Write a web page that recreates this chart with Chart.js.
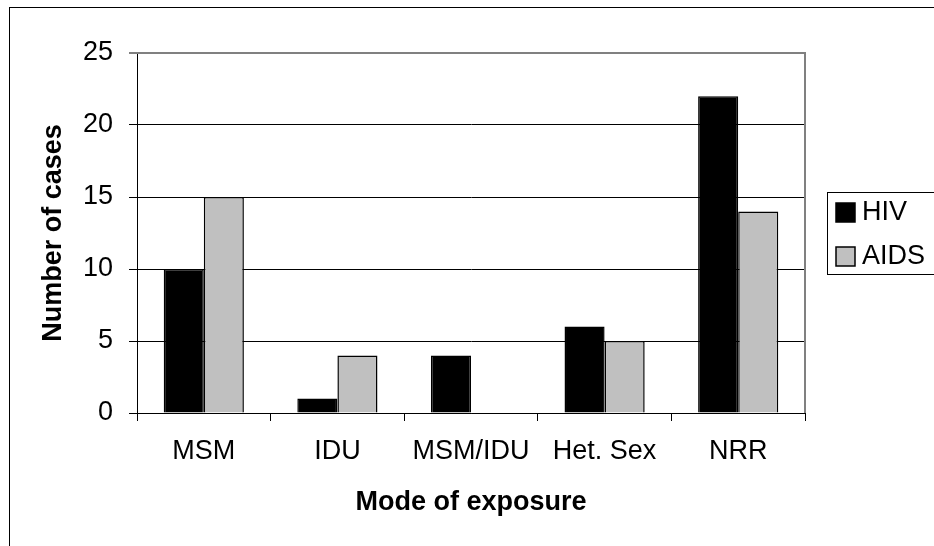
<!DOCTYPE html>
<html>
<head>
<meta charset="utf-8">
<script src="https://cdn.jsdelivr.net/npm/chart.js@4/dist/chart.umd.min.js"></script>
<style>
  body { margin: 0; background: #fff; }
  #wrap { position: relative; width: 934px; height: 546px; overflow: hidden; }
  #frame { position: absolute; left: 9px; top: 7px; width: 1000px; height: 1000px; border: 1px solid #000; }
  canvas { position: absolute; left: 0; top: 0; }
</style>
</head>
<body>
<div id="wrap">
  <div id="frame"></div>
  <canvas id="chart" width="934" height="546"></canvas>
</div>
<script>
var categories = ['MSM', 'IDU', 'MSM/IDU', 'Het. Sex', 'NRR'];
var hivCases = [10, 1, 4, 6, 22];
var aidsCases = [15, 4, 0, 5, 14];
var yTicks = [0, 5, 10, 15, 20, 25];

var FONT = "'Liberation Sans', Arial, sans-serif";

// plot area border (grey top/right) like the original spreadsheet chart
var plotBorder = {
    id: 'plotBorder',
    beforeDatasetsDraw: function (chart) {
        var a = chart.chartArea, c = chart.ctx;
        c.save();
        c.strokeStyle = '#808080';
        c.lineWidth = 2;
        c.beginPath();
        c.moveTo(a.left, a.top);
        c.lineTo(a.right, a.top);
        c.lineTo(a.right, a.bottom);
        c.stroke();
        c.restore();
    }
};

// boxed legend to the right of the plot
var boxLegend = {
    id: 'boxLegend',
    afterDraw: function (chart) {
        var c = chart.ctx;
        var x = 827, y = 192, w = 120, h = 82;
        c.save();
        c.strokeStyle = '#000';
        c.lineWidth = 1;
        c.strokeRect(x + 0.5, y + 0.5, w, h);
        c.font = '27px ' + FONT;
        c.textBaseline = 'middle';
        chart.data.datasets.forEach(function (ds, i) {
            var ry = y + 11 + i * 44;
            c.fillStyle = ds.backgroundColor;
            c.fillRect(x + 9, ry, 19, 19);
            c.strokeStyle = '#000';
            c.lineWidth = 1.5;
            c.strokeRect(x + 9, ry, 19, 19);
            c.fillStyle = '#000';
            c.fillText(ds.label, x + 35, ry + 10);
        });
        c.restore();
    }
};

new Chart(document.getElementById('chart'), {
    type: 'bar',
    data: {
        labels: categories,
        datasets: [{
            label: 'HIV',
            data: hivCases,
            backgroundColor: '#000000',
            borderColor: '#000000',
            borderWidth: 1.5
        }, {
            label: 'AIDS',
            data: aidsCases,
            backgroundColor: '#c0c0c0',
            borderColor: '#000000',
            borderWidth: 1.5
        }]
    },
    options: {
        responsive: false,
        animation: false,
        layout: { padding: { left: 20, top: 53, right: 129, bottom: 10 } },
        datasets: { bar: { categoryPercentage: 0.6, barPercentage: 1.0 } },
        plugins: { legend: { display: false }, tooltip: { enabled: false } },
        scales: {
            x: {
                afterFit: function (s) { s.height = 123; },
                grid: { drawOnChartArea: false, drawTicks: true, tickLength: 8, color: '#000' },
                border: { color: '#000', width: 1 },
                ticks: { color: '#000', padding: 14, font: { family: FONT, size: 27 } },
                title: {
                    display: true, text: 'Mode of exposure', color: '#000',
                    padding: { top: 0, bottom: 17 },
                    font: { family: FONT, size: 27, weight: 'bold' }
                }
            },
            y: {
                min: yTicks[0],
                max: yTicks[yTicks.length - 1],
                afterFit: function (s) { s.width = 117; },
                afterBuildTicks: function (s) { s.ticks = yTicks.map(function (v) { return { value: v }; }); },
                grid: {
                    tickLength: 8,
                    color: function (ctx) { return ctx.tick && ctx.tick.value === 25 ? '#808080' : '#000'; },
                    lineWidth: function (ctx) { return ctx.tick && ctx.tick.value === 25 ? 2 : 1; }
                },
                border: { color: '#000', width: 1 },
                ticks: { color: '#000', padding: 16, font: { family: FONT, size: 27 } },
                title: {
                    display: true, text: 'Number of cases', color: '#000',
                    padding: { top: 17, bottom: 0 },
                    font: { family: FONT, size: 27, weight: 'bold' }
                }
            }
        }
    },
    plugins: [plotBorder, boxLegend]
});
</script>
</body>
</html>
